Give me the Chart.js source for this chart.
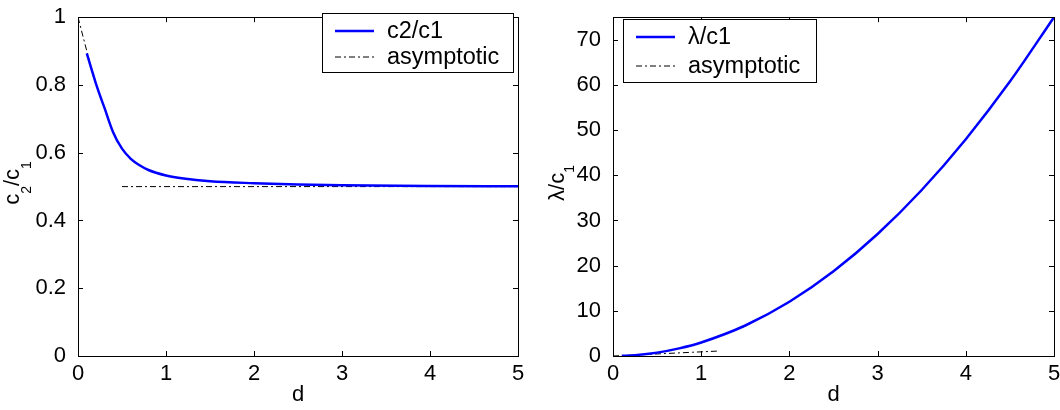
<!DOCTYPE html>
<html>
<head>
<meta charset="utf-8">
<script src="https://cdn.jsdelivr.net/npm/chart.js@4.4.1/dist/chart.umd.min.js"></script>
<style>
  html, body { margin: 0; padding: 0; background: #fff; }
  .panel { position: absolute; top: 0; width: 530px; height: 410px; }
  #wrap-left { left: 0; }
  #wrap-right { left: 530px; }
</style>
</head>
<body>
<div class="panel" id="wrap-left"><canvas id="chart-left" width="530" height="410"></canvas></div>
<div class="panel" id="wrap-right"><canvas id="chart-right" width="530" height="410"></canvas></div>
<script>
// --- data ---
const xTicks = [0, 1, 2, 3, 4, 5];

// left panel: c2/c1 against d
const dLeft = [0.1, 0.15, 0.2, 0.25, 0.3, 0.4, 0.5, 0.6, 0.7, 0.8, 1.0, 1.2, 1.5, 2, 2.5, 3, 4, 5];
const c2c1  = [0.893, 0.85, 0.807, 0.769, 0.733, 0.66, 0.612, 0.582, 0.563, 0.549, 0.533, 0.524, 0.516, 0.51, 0.506, 0.504, 0.502, 0.501];
const asymSmallDLeft = [0, 0.1, 0.18];
const asymSmallLeft  = [1, 0.9, 0.82];
const asymLargeDLeft = [0.5, 5];
const asymLargeLeft  = [0.5, 0.5];
const yTicksLeft = [0, 0.2, 0.4, 0.6, 0.8, 1];

// right panel: lambda/c1 against d
const dRight = [0.1, 0.25, 0.5, 0.75, 1, 1.5, 2, 2.5, 3, 3.5, 4, 4.5, 5];
const lamc1  = [0.03, 0.19, 0.75, 1.69, 3, 6.75, 12, 18.75, 27, 36.75, 48, 60.75, 75];
const asymSmallDRight = [0, 0.3, 0.6, 0.9, 1.2];
const asymSmallRight  = [0, 0.27, 0.55, 0.83, 1.1];
const asymLargeDRight = [1, 1.5, 2, 2.5, 3, 3.5, 4, 4.5, 5];
const asymLargeRight  = [2.9, 6.6, 11.9, 18.6, 26.9, 36.6, 47.9, 60.6, 74.9];
const yTicksRight = [0, 10, 20, 30, 40, 50, 60, 70];

const FONT = "'Liberation Sans', Arial, Helvetica, sans-serif";
const BLUE = '#0000ff';
const DASHDOT = [6, 3, 2, 3];

function pts(xs, ys) {
    return xs.map((x, i) => ({ x: x, y: ys[i] }));
}

// frame, inward ticks, axis titles and legend box (matlab look)
const matlabFrame = {
    id: 'matlabFrame',
    afterDraw(chart, args, opts) {
        const ctx = chart.ctx;
        const a = chart.chartArea;
        const xs = chart.scales.x, ys = chart.scales.y;
        ctx.save();
        ctx.strokeStyle = '#000';
        ctx.lineWidth = 1;
        ctx.setLineDash([]);
        ctx.strokeRect(Math.round(a.left) + 0.5, Math.round(a.top) + 0.5,
            Math.round(a.right - a.left), Math.round(a.bottom - a.top));
        const tl = 5;
        ctx.beginPath();
        xs.ticks.forEach(t => {
            const px = Math.round(xs.getPixelForValue(t.value)) + 0.5;
            ctx.moveTo(px, a.bottom); ctx.lineTo(px, a.bottom - tl);
            ctx.moveTo(px, a.top); ctx.lineTo(px, a.top + tl);
        });
        ys.ticks.forEach(t => {
            const py = Math.round(ys.getPixelForValue(t.value)) + 0.5;
            ctx.moveTo(a.left, py); ctx.lineTo(a.left + tl, py);
            ctx.moveTo(a.right, py); ctx.lineTo(a.right - tl, py);
        });
        ctx.stroke();

        // x title
        ctx.fillStyle = '#000';
        ctx.font = '22px ' + FONT;
        ctx.textAlign = 'center';
        ctx.textBaseline = 'alphabetic';
        ctx.fillText('d', (a.left + a.right) / 2, 401);

        // y title with subscripts, rotated
        const yt = opts.yTitle;
        ctx.translate(yt.x, yt.y);
        ctx.rotate(-Math.PI / 2);
        let total = 0;
        yt.parts.forEach(p => {
            ctx.font = (p.sub ? '14px ' : '22px ') + FONT;
            total += ctx.measureText(p.t).width;
        });
        let cx = -total / 2;
        ctx.textAlign = 'left';
        yt.parts.forEach(p => {
            ctx.font = (p.sub ? '14px ' : '22px ') + FONT;
            ctx.fillText(p.t, cx, p.sub ? yt.subDrop : 0);
            cx += ctx.measureText(p.t).width;
        });
        ctx.setTransform(1, 0, 0, 1, 0, 0);

        // legend
        const lg = opts.legend;
        ctx.fillStyle = '#fff';
        ctx.fillRect(lg.x, lg.y, lg.w, lg.h);
        ctx.strokeStyle = '#000';
        ctx.strokeRect(lg.x + 0.5, lg.y + 0.5, lg.w, lg.h);
        lg.items.forEach((it, i) => {
            const ry = lg.rows[i];
            ctx.beginPath();
            ctx.strokeStyle = it.color;
            ctx.lineWidth = it.width;
            ctx.setLineDash(it.dash || []);
            ctx.moveTo(lg.x + 13, ry);
            ctx.lineTo(lg.x + 52, ry);
            ctx.stroke();
            ctx.setLineDash([]);
            ctx.fillStyle = '#000';
            ctx.font = '23.5px ' + FONT;
            ctx.textAlign = 'left';
            ctx.textBaseline = 'middle';
            ctx.fillText(it.label, lg.x + 65, ry + 1);
        });
        ctx.restore();
    }
};

function makeChart(id, cfg) {
    return new Chart(document.getElementById(id).getContext('2d'), {
        type: 'line',
        data: {
            datasets: [
                { data: pts(cfg.d, cfg.y), borderColor: BLUE, borderWidth: 2.5, cubicInterpolationMode: 'monotone' },
                { data: pts(cfg.aSD, cfg.aS), borderColor: '#000', borderWidth: 1, borderDash: DASHDOT },
                { data: pts(cfg.aLD, cfg.aL), borderColor: '#000', borderWidth: 1, borderDash: DASHDOT }
            ]
        },
        options: {
            responsive: false,
            animation: false,
            devicePixelRatio: 1,
            layout: { padding: { top: 10, right: cfg.padRight, left: 0, bottom: 0 } },
            elements: { point: { radius: 0 }, line: { tension: 0 } },
            scales: {
                x: {
                    type: 'linear', min: 0, max: 5,
                    grid: { display: false }, border: { display: false },
                    afterBuildTicks: s => { s.ticks = xTicks.map(v => ({ value: v })); },
                    afterFit: s => { s.height = 54; },
                    ticks: { color: '#000', font: { size: 22, family: FONT }, padding: -3, maxRotation: 0 }
                },
                y: {
                    type: 'linear', min: cfg.yMin, max: cfg.yMax,
                    grid: { display: false }, border: { display: false },
                    afterBuildTicks: s => { s.ticks = cfg.yTicks.map(v => ({ value: v })); },
                    afterFit: s => { s.width = cfg.yWidth; },
                    ticks: {
                        color: '#000', font: { size: 22, family: FONT }, padding: 4,
                        callback: v => String(Number(v.toFixed(2)))
                    }
                }
            },
            plugins: {
                legend: { display: false },
                tooltip: { enabled: false },
                matlabFrame: { yTitle: cfg.yTitle, legend: cfg.legend }
            }
        },
        plugins: [matlabFrame]
    });
}

makeChart('chart-left', {
    d: dLeft, y: c2c1,
    aSD: asymSmallDLeft, aS: asymSmallLeft, aLD: asymLargeDLeft, aL: asymLargeLeft,
    yMin: 0, yMax: 1, yTicks: yTicksLeft, yWidth: 78, padRight: 12,
    yTitle: { x: 19, y: 183, subDrop: 12, parts: [{ t: 'c' }, { t: '2', sub: true }, { t: '/c' }, { t: '1', sub: true }] },
    legend: {
        x: 322, y: 13, w: 191, h: 59, rows: [31, 57],
        items: [
            { label: 'c2/c1', color: BLUE, width: 2.5 },
            { label: 'asymptotic', color: '#000', width: 1, dash: DASHDOT }
        ]
    }
});

makeChart('chart-right', {
    d: dRight, y: lamc1,
    aSD: asymSmallDRight, aS: asymSmallRight, aLD: asymLargeDRight, aL: asymLargeRight,
    yMin: 0, yMax: 75, yTicks: yTicksRight, yWidth: 83, padRight: 6,
    yTitle: { x: 34, y: 183, subDrop: 10, parts: [{ t: 'λ/c' }, { t: '1', sub: true }] },
    legend: {
        x: 93, y: 19, w: 193, h: 63, rows: [37, 66],
        items: [
            { label: 'λ/c1', color: BLUE, width: 2.5 },
            { label: 'asymptotic', color: '#000', width: 1, dash: DASHDOT }
        ]
    }
});
</script>
</body>
</html>
